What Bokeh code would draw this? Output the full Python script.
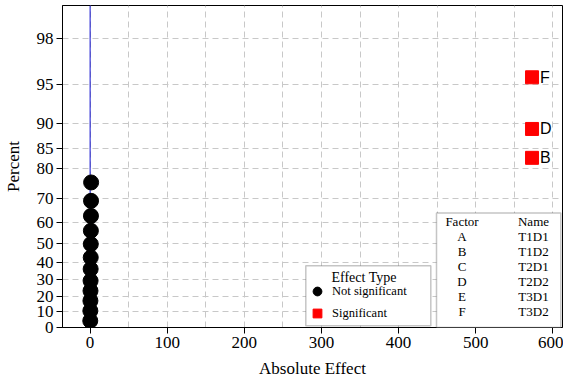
from statistics import NormalDist

from bokeh.plotting import figure
from bokeh.core.properties import value
from bokeh.models import (ColumnDataSource, Range1d, FixedTicker, Span, BoxAnnotation,
                          Label, LabelSet, Legend, LegendItem)
from bokeh.embed import file_html
from bokeh.resources import INLINE

# Half-normal plot of the absolute effects (alpha = 0.05)
ns_effect = [0.2, 0.3, 0.4, 0.5, 0.6, 0.7, 0.8, 0.9, 1.0, 1.1, 1.2, 1.3]
ns_percent = [4.3, 10.7, 17.0, 23.2, 29.3, 36.2, 42.7, 49.8, 56.4, 63.1, 69.2, 75.7]

sig_terms = ["B", "D", "F"]
sig_effect = [573.0, 573.0, 573.0]
sig_percent = [82.8, 89.0, 95.6]

# fitted reference line (estimated sigma of the effects ~ 0)
ref_line_effect = 0.0

factor_codes = ["A", "B", "C", "D", "E", "F"]
factor_names = ["T1D1", "T1D2", "T2D1", "T2D2", "T3D1", "T3D2"]

y_tick_percent = [0, 10, 20, 30, 40, 50, 60, 70, 80, 85, 90, 95, 98]
x_ticks = [0, 100, 200, 300, 400, 500, 600]
x_grid = [0, 50, 100, 150, 200, 250, 300, 350, 400, 450, 500, 550, 600]

_nd = NormalDist()


def half_normal_score(pct):
    return _nd.inv_cdf(0.5 + pct / 200.0)


ns_src = ColumnDataSource(dict(x=ns_effect, y=[half_normal_score(v) for v in ns_percent]))
sig_src = ColumnDataSource(dict(x=sig_effect, y=[half_normal_score(v) for v in sig_percent],
                                term=sig_terms))

SERIF = "Liberation Serif"

p = figure(width=563, height=381, output_backend="svg", toolbar_location=None,
           x_range=Range1d(-35.8, 612.5), y_range=Range1d(0, 2.592),
           min_border_left=60, min_border_right=1, min_border_top=5, min_border_bottom=54)
p.background_fill_color = "white"
p.border_fill_color = "white"
p.outline_line_color = "black"
p.outline_line_width = 1

# axes
y_pos = [half_normal_score(v) for v in y_tick_percent]
p.yaxis.ticker = FixedTicker(ticks=y_pos)
p.yaxis.major_label_overrides = {z: str(v) for z, v in zip(y_pos, y_tick_percent)}
p.xaxis.ticker = FixedTicker(ticks=x_ticks)
for ax in (p.xaxis[0], p.yaxis[0]):
    ax.axis_line_color = "black"
    ax.major_tick_line_color = "black"
    ax.major_tick_out = 6
    ax.major_tick_in = 0
    ax.minor_tick_out = 0
    ax.minor_tick_in = 0
    ax.major_label_standoff = 3
    ax.major_label_text_font = SERIF
    ax.major_label_text_font_size = "17px"
    ax.major_label_text_color = "black"
    ax.axis_label_text_font = SERIF
    ax.axis_label_text_font_size = "17px"
    ax.axis_label_text_font_style = "normal"
    ax.axis_label_text_color = "black"
p.xaxis.axis_label = "Absolute Effect"
p.yaxis.axis_label = "Percent"
p.xaxis.axis_label_standoff = 8
p.yaxis.axis_label_standoff = 11

# grid
p.xgrid.ticker = FixedTicker(ticks=x_grid)
p.ygrid.ticker = FixedTicker(ticks=y_pos)
for g in (p.xgrid[0], p.ygrid[0]):
    g.grid_line_color = "#c8c8c8"
    g.grid_line_dash = "6 4"
    g.grid_line_width = 1

# reference line
p.add_layout(Span(location=ref_line_effect, dimension="height", line_color="#1010d0",
                  line_width=1, level="underlay"))

# points
circ = p.scatter("x", "y", source=ns_src, marker="circle", size=15,
                 fill_color="black", line_color="black")
sq = p.scatter("x", "y", source=sig_src, marker="square", size=13,
               fill_color="red", line_color="red")

p.add_layout(LabelSet(x="x", y="y", text="term", source=sig_src, x_offset=8,
                      text_baseline="middle", text_align="left",
                      text_font=value("Liberation Sans"), text_font_size=value("16px"),
                      text_color="black"))

# effect type legend
p.add_layout(BoxAnnotation(left=243.3, right=368.3, top=61.7, bottom=1.7,
                           left_units="screen", right_units="screen",
                           top_units="screen", bottom_units="screen",
                           fill_color="white", fill_alpha=1.0,
                           line_color="#404040", line_width=1.5))
p.add_layout(Label(x=269, y=50, x_units="screen", y_units="screen", text="Effect Type",
                   text_font=SERIF, text_font_size="14px", text_baseline="middle",
                   text_color="black"))
legend = Legend(items=[LegendItem(label="Not significant", renderers=[circ]),
                       LegendItem(label="Significant", renderers=[sq])],
                location=(244, 2.7), orientation="vertical", padding=0, margin=0,
                spacing=-3, glyph_width=22, glyph_height=22, label_height=22,
                label_standoff=4, label_text_font=SERIF, label_text_font_size="12.5px",
                label_text_color="black",
                background_fill_alpha=0, border_line_alpha=0)
p.add_layout(legend, "center")

# factor / name table
p.add_layout(BoxAnnotation(left=374, right=498.3, top=114.4, bottom=0,
                           left_units="screen", right_units="screen",
                           top_units="screen", bottom_units="screen",
                           fill_color="white", fill_alpha=1.0,
                           line_color="#404040", line_width=1.5))
row_y = [105.7 - 15 * i for i in range(len(factor_codes) + 1)]
table_src = ColumnDataSource(dict(
    x=[399.5] * (len(factor_codes) + 1) + [471] * (len(factor_names) + 1),
    y=row_y + row_y,
    text=["Factor"] + factor_codes + ["Name"] + factor_names,
))
p.add_layout(LabelSet(x="x", y="y", text="text", source=table_src,
                      x_units="screen", y_units="screen",
                      text_align="center", text_baseline="middle",
                      text_font=value(SERIF), text_font_size=value("13px"),
                      text_color="black"))

open("out.html", "w").write(file_html(p, INLINE))
